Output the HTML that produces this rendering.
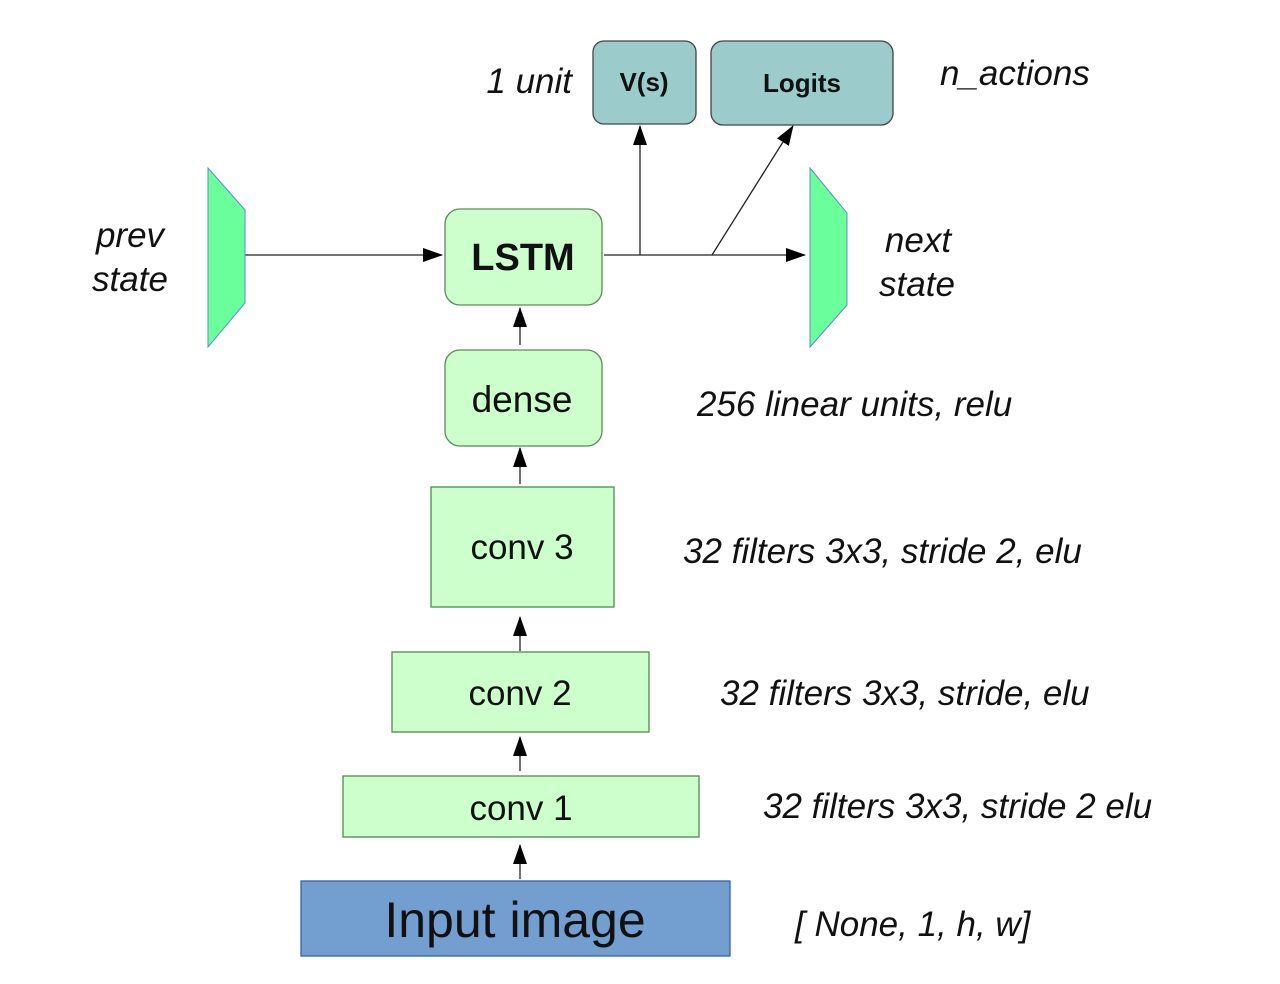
<!DOCTYPE html>
<html><head><meta charset="utf-8"><style>html,body{margin:0;padding:0;background:#fff}svg{display:block}</style></head>
<body>
<svg width="1280" height="984" viewBox="0 0 1280 984" xmlns="http://www.w3.org/2000/svg" font-family="Liberation Sans, sans-serif">
<defs><marker id="a" markerWidth="10" markerHeight="10" refX="9" refY="5" orient="auto" markerUnits="userSpaceOnUse"><path d="M0,0 L10,5 L0,10 z" fill="#000"/></marker>
<marker id="b" markerWidth="20" markerHeight="14" refX="19" refY="7" orient="auto" markerUnits="userSpaceOnUse"><path d="M0,0 L20,7 L0,14 z" fill="#000"/></marker></defs>
<g stroke="#222" stroke-width="1.3" fill="none">
<line x1="245" y1="255" x2="442" y2="255" marker-end="url(#b)"/>
<line x1="604" y1="255" x2="805" y2="255" marker-end="url(#b)"/>
<line x1="640" y1="255" x2="640" y2="126" marker-end="url(#b)"/>
<line x1="712" y1="255" x2="793" y2="126" marker-end="url(#b)"/>
<line x1="520" y1="345" x2="520" y2="308" marker-end="url(#b)"/>
<line x1="520" y1="484" x2="520" y2="448" marker-end="url(#b)"/>
<line x1="520" y1="651" x2="520" y2="617" marker-end="url(#b)"/>
<line x1="520" y1="771" x2="520" y2="737" marker-end="url(#b)"/>
<line x1="520" y1="879" x2="520" y2="845" marker-end="url(#b)"/>
</g>
<polygon points="208,168 245,210 245,303 208,347" fill="#6bff9c" stroke="#5b8fd0" stroke-width="1"/>
<polygon points="810,168 847,213 847,305 810,347" fill="#6bff9c" stroke="#5b8fd0" stroke-width="1"/>
<rect x="593" y="41" width="103" height="83" rx="11" fill="#9ccbcb" stroke="#444" stroke-width="1.3"/>
<rect x="711" y="41" width="182" height="84" rx="12" fill="#9ccbcb" stroke="#444" stroke-width="1.3"/>
<rect x="445" y="209" width="157" height="96" rx="15" fill="#ccffcc" stroke="#5a8a5a" stroke-width="1.3"/>
<rect x="445" y="350" width="157" height="96" rx="15" fill="#ccffcc" stroke="#5a8a5a" stroke-width="1.3"/>
<rect x="431" y="487" width="183" height="120" fill="#ccffcc" stroke="#4d8a4d" stroke-width="1.3"/>
<rect x="392" y="652" width="257" height="80" fill="#ccffcc" stroke="#4d8a4d" stroke-width="1.3"/>
<rect x="343" y="776" width="356" height="61" fill="#ccffcc" stroke="#4d8a4d" stroke-width="1.3"/>
<rect x="301" y="881" width="429" height="75" fill="#729fcf" stroke="#3465a4" stroke-width="1.3"/>
<g fill="#111" text-anchor="middle">
<text x="644" y="91" font-size="26" font-weight="bold">V(s)</text>
<text x="802" y="92" font-size="26" font-weight="bold">Logits</text>
<text x="523" y="270" font-size="38" font-weight="bold">LSTM</text>
<text x="522" y="412" font-size="37">dense</text>
<text x="522" y="559" font-size="35">conv 3</text>
<text x="520" y="705" font-size="35">conv 2</text>
<text x="521" y="820" font-size="35">conv 1</text>
<text x="515" y="937" font-size="50">Input image</text>
</g>
<g fill="#111" font-style="italic" font-size="35">
<text x="130" y="247" text-anchor="middle">prev</text>
<text x="130" y="291" text-anchor="middle">state</text>
<text x="918" y="252" text-anchor="middle">next</text>
<text x="917" y="296" text-anchor="middle">state</text>
<text x="572" y="93" text-anchor="end">1 unit</text>
<text x="940" y="85">n_actions</text>
<text x="697" y="416">256 linear units, relu</text>
<text x="683" y="563">32 filters 3x3, stride 2, elu</text>
<text x="720" y="705">32 filters 3x3, stride, elu</text>
<text x="763" y="818">32 filters 3x3, stride 2 elu</text>
<text x="795" y="936">[ None, 1, h, w]</text>
</g>
</svg>
</body></html>
